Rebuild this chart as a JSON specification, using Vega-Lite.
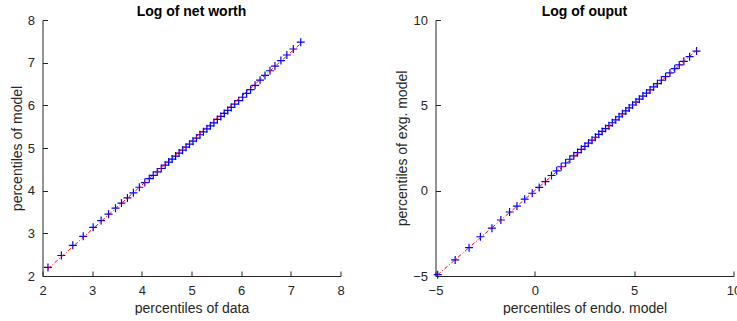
{
  "$schema": "https://vega.github.io/schema/vega-lite/v6.json",
  "autosize": {"type": "pad"},
  "padding": {"left": 9.5, "top": 5, "right": 0, "bottom": 0},
  "background": "white",
  "bounds": "flush",
  "spacing": 95,
  "config": {
    "font": "Liberation Sans",
    "view": {"stroke": null},
    "axis": {
      "grid": false,
      "labelFont": "Liberation Sans",
      "titleFont": "Liberation Sans",
      "labelFontSize": 13,
      "titleFontSize": 14,
      "titleFontWeight": "normal",
      "labelColor": "#262626",
      "titleColor": "#262626",
      "domainColor": "#262626",
      "tickColor": "#262626",
      "domainWidth": 1,
      "tickWidth": 1,
      "tickSize": -5,
      "labelFlush": false,
      "labelOverlap": false
    },
    "axisX": {"labelPadding": 13, "titlePadding": 4},
    "axisY": {"labelPadding": 13, "titlePadding": 3},
    "title": {"font": "Liberation Sans", "fontSize": 14, "fontWeight": "bold", "color": "#000000", "offset": -5, "anchor": "middle"}
  },
  "datasets": {
    "nw": [
      {"x": 2.11, "y": 2.20}, {"x": 2.38, "y": 2.48}, {"x": 2.61, "y": 2.72}, {"x": 2.82, "y": 2.93},
      {"x": 3.02, "y": 3.14}, {"x": 3.18, "y": 3.30}, {"x": 3.33, "y": 3.45}, {"x": 3.47, "y": 3.59},
      {"x": 3.59, "y": 3.71}, {"x": 3.71, "y": 3.83}, {"x": 3.83, "y": 3.95}, {"x": 3.95, "y": 4.08},
      {"x": 4.06, "y": 4.19}, {"x": 4.15, "y": 4.28}, {"x": 4.23, "y": 4.36}, {"x": 4.31, "y": 4.44},
      {"x": 4.39, "y": 4.52}, {"x": 4.47, "y": 4.60}, {"x": 4.54, "y": 4.67}, {"x": 4.61, "y": 4.74},
      {"x": 4.68, "y": 4.81}, {"x": 4.75, "y": 4.88}, {"x": 4.82, "y": 4.95}, {"x": 4.89, "y": 5.02},
      {"x": 4.96, "y": 5.09}, {"x": 5.03, "y": 5.16}, {"x": 5.10, "y": 5.23}, {"x": 5.17, "y": 5.31},
      {"x": 5.24, "y": 5.38}, {"x": 5.31, "y": 5.45}, {"x": 5.38, "y": 5.52}, {"x": 5.45, "y": 5.59},
      {"x": 5.52, "y": 5.67}, {"x": 5.59, "y": 5.74}, {"x": 5.66, "y": 5.81}, {"x": 5.73, "y": 5.88},
      {"x": 5.80, "y": 5.95}, {"x": 5.87, "y": 6.03}, {"x": 5.95, "y": 6.11}, {"x": 6.03, "y": 6.19},
      {"x": 6.11, "y": 6.28}, {"x": 6.19, "y": 6.37}, {"x": 6.28, "y": 6.47}, {"x": 6.38, "y": 6.59},
      {"x": 6.48, "y": 6.70}, {"x": 6.58, "y": 6.81}, {"x": 6.68, "y": 6.92}, {"x": 6.80, "y": 7.05},
      {"x": 6.92, "y": 7.18}, {"x": 7.05, "y": 7.32}, {"x": 7.20, "y": 7.48}
    ],
    "nwline": [{"x": 2.11, "y": 2.17}, {"x": 7.20, "y": 7.45}],
    "out": [
      {"x": -4.89, "y": -4.92}, {"x": -4.01, "y": -4.06}, {"x": -3.31, "y": -3.34}, {"x": -2.74, "y": -2.70},
      {"x": -2.16, "y": -2.20}, {"x": -1.71, "y": -1.72}, {"x": -1.27, "y": -1.25}, {"x": -0.90, "y": -0.90},
      {"x": -0.51, "y": -0.50}, {"x": -0.13, "y": -0.15}, {"x": 0.22, "y": 0.19}, {"x": 0.53, "y": 0.53},
      {"x": 0.84, "y": 0.89}, {"x": 1.10, "y": 1.16}, {"x": 1.33, "y": 1.40}, {"x": 1.55, "y": 1.62},
      {"x": 1.76, "y": 1.84}, {"x": 1.96, "y": 2.04}, {"x": 2.15, "y": 2.23}, {"x": 2.34, "y": 2.42},
      {"x": 2.52, "y": 2.60}, {"x": 2.70, "y": 2.78}, {"x": 2.88, "y": 2.96}, {"x": 3.05, "y": 3.13},
      {"x": 3.22, "y": 3.30}, {"x": 3.39, "y": 3.47}, {"x": 3.56, "y": 3.64}, {"x": 3.73, "y": 3.81},
      {"x": 3.90, "y": 3.98}, {"x": 4.07, "y": 4.15}, {"x": 4.24, "y": 4.33}, {"x": 4.41, "y": 4.50},
      {"x": 4.58, "y": 4.67}, {"x": 4.75, "y": 4.85}, {"x": 4.92, "y": 5.02}, {"x": 5.09, "y": 5.19},
      {"x": 5.26, "y": 5.36}, {"x": 5.44, "y": 5.54}, {"x": 5.62, "y": 5.72}, {"x": 5.80, "y": 5.90},
      {"x": 5.98, "y": 6.08}, {"x": 6.17, "y": 6.27}, {"x": 6.37, "y": 6.47}, {"x": 6.58, "y": 6.68},
      {"x": 6.80, "y": 6.90}, {"x": 7.04, "y": 7.15}, {"x": 7.27, "y": 7.37}, {"x": 7.50, "y": 7.58},
      {"x": 7.79, "y": 7.85}, {"x": 8.14, "y": 8.18}
    ],
    "outline": [{"x": -4.89, "y": -4.93}, {"x": 8.14, "y": 8.22}]
  },
  "hconcat": [
    {
      "width": 298,
      "height": 256,
      "title": "Log of net worth",
      "layer": [
        {
          "data": {"name": "nw"},
          "mark": {"type": "point", "shape": "M-1,0L1,0M0,-1L0,1", "filled": false, "stroke": "#0000ff", "strokeWidth": 1.2, "size": 64, "opacity": 1},
          "encoding": {
            "x": {"field": "x", "type": "quantitative", "scale": {"domain": [2, 8], "nice": false, "zero": false}, "axis": {"title": "percentiles of data", "values": [2, 3, 4, 5, 6, 7, 8]}},
            "y": {"field": "y", "type": "quantitative", "scale": {"domain": [2, 8], "nice": false, "zero": false}, "axis": {"title": "percentiles of model", "values": [2, 3, 4, 5, 6, 7, 8]}}
          }
        },
        {
          "data": {"name": "nwline"},
          "mark": {"type": "line", "color": "#ff0000", "strokeWidth": 1, "strokeDash": [4, 2, 1, 2]},
          "encoding": {
            "x": {"field": "x", "type": "quantitative"},
            "y": {"field": "y", "type": "quantitative"}
          }
        }
      ]
    },
    {
      "width": 298,
      "height": 256,
      "title": "Log of ouput",
      "layer": [
        {
          "data": {"name": "out"},
          "mark": {"type": "point", "shape": "M-1,0L1,0M0,-1L0,1", "filled": false, "stroke": "#0000ff", "strokeWidth": 1.2, "size": 64, "opacity": 1},
          "encoding": {
            "x": {"field": "x", "type": "quantitative", "scale": {"domain": [-5, 10], "nice": false, "zero": false}, "axis": {"title": "percentiles of endo. model", "values": [-5, 0, 5, 10]}},
            "y": {"field": "y", "type": "quantitative", "scale": {"domain": [-5, 10], "nice": false, "zero": false}, "axis": {"title": "percentiles of exg. model", "values": [-5, 0, 5, 10]}}
          }
        },
        {
          "data": {"name": "outline"},
          "mark": {"type": "line", "color": "#ff0000", "strokeWidth": 1, "strokeDash": [4, 2, 1, 2]},
          "encoding": {
            "x": {"field": "x", "type": "quantitative"},
            "y": {"field": "y", "type": "quantitative"}
          }
        }
      ]
    }
  ]
}
